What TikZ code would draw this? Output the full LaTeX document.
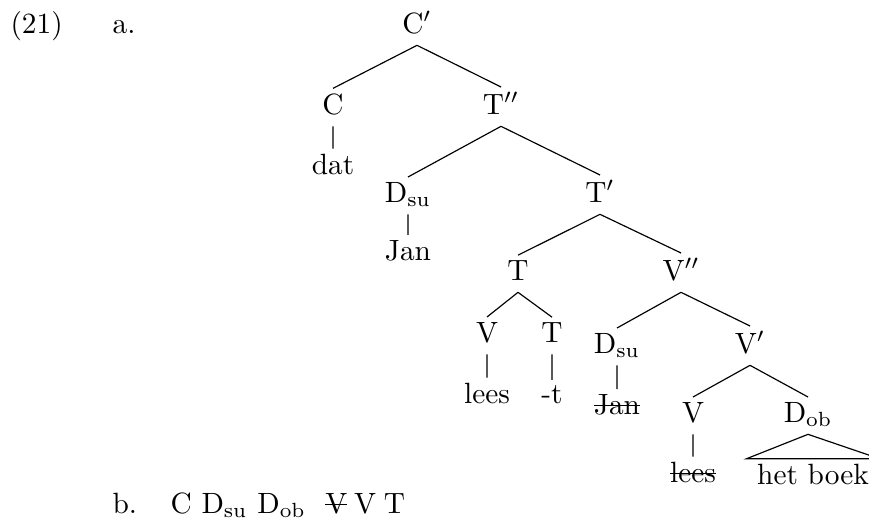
\documentclass[tikz,border=0pt]{standalone}
\usepackage{amsmath}
\usepackage{tikz}

% a copy that has moved: draw a rule through it
\newcommand{\struck}[1]{\setbox0\hbox{#1}\rlap{\vrule height 3.1pt depth -2.7pt width \wd0}\box0{}}

\begin{document}
\begin{tikzpicture}[x=0.341pt,y=-0.341pt,
    every node/.style={anchor=base,inner sep=1.5pt,text depth=2.5pt},
    label/.style={anchor=base west,inner sep=0pt}]
    \useasboundingbox (0,0) rectangle (869,525);

    \node[label] (num) at (10,33) {(21)};
    \node[label] (exa) at (112,33) {a.};

    % the tree, one row of labels at a time
    \node (cbar)  at (417,33)  {C$'$};
    \node (c)     at (333,114) {C};
    \node (tbb)   at (501,114) {T$''$};
    \node (dat)   at (333,174) {dat};
    \node (dsu)   at (408,202) {D$_{\rm su}$};
    \node (tbar)  at (600,202) {T$'$};
    \node (jan)   at (408,260) {Jan};
    \node (t)     at (518,280) {T};
    \node (vbb)   at (681,280) {V$''$};
    \node (vt)    at (487,342) {V};
    \node (tt)    at (552,342) {T};
    \node (lees)  at (487,403) {lees};
    \node (suf)   at (552,403) {-t};
    \node (dsutr) at (617,353) {D$_{\rm su}$};
    \node (vbar)  at (750,353) {V$'$};
    \node (jantr) at (617,414) {\struck{Jan}};
    \node (v)     at (693,422) {V};
    \node (dob)   at (808,422) {D$_{\rm ob}$};
    \node (leestr) at (693,482) {\struck{lees}};
    \node[inner xsep=3.4pt] (book) at (813,484) {het boek};

    \draw (cbar.south) -- (c.north)
          (cbar.south) -- (tbb.north)
          (c.south) -- (dat.north)
          (tbb.south) -- (dsu.north)
          (tbb.south) -- (tbar.north)
          (dsu.south) -- (jan.north)
          (tbar.south) -- (t.north)
          (tbar.south) -- (vbb.north)
          (t.south) -- (vt.north)
          (t.south) -- (tt.north)
          (vt.south) -- (lees.north)
          (tt.south) -- (suf.north)
          (vbb.south) -- (dsutr.north)
          (vbb.south) -- (vbar.north)
          (dsutr.south) -- (jantr.north)
          (vbar.south) -- (v.north)
          (vbar.south) -- (dob.north)
          (v.south) -- (leestr.north);
    % roof over the object
    \draw (book.north west) -- (dob.south) -- (book.north east) -- cycle;

    \node[label] (exb) at (112,513) {b.};
    \node[label] (order) at (170,513)
        {C D$_{\rm su}$ D$_{\rm ob}$ \ \struck{V}\hspace{2.3pt}V\hspace{2.6pt}T};
\end{tikzpicture}
\end{document}
